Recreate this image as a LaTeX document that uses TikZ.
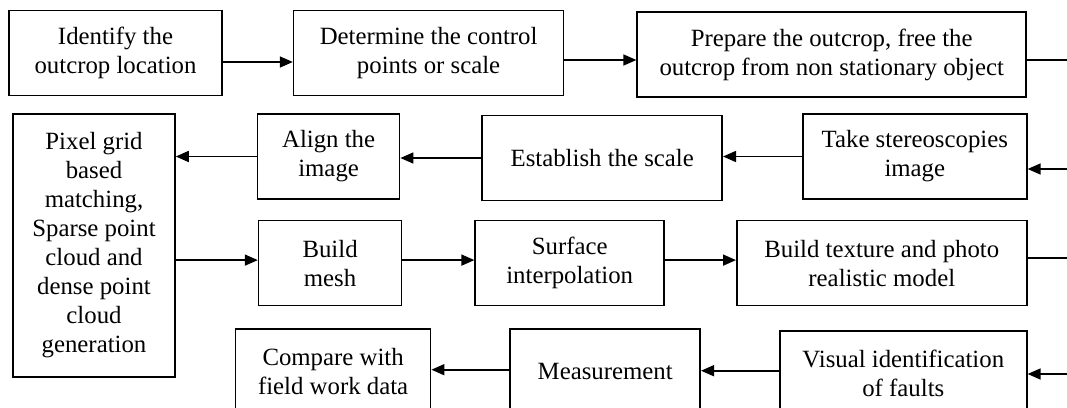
\documentclass[tikz,border=0pt]{standalone}
\usepackage{fontspec}
\setmainfont{Liberation Serif}
\usepackage{tikz}
\usetikzlibrary{positioning,arrows.meta}

\begin{document}
\begin{tikzpicture}[x=1pt, y=1pt,
    ->,
    >={Triangle[length=13pt,width=11pt]},
    line width=1.6pt,
    bb/.style={%
      rectangle, draw=black, line width=1.6pt, fill=white,
      minimum height=85pt, inner sep=4pt, align=center,
      font=\fontsize{24.8}{29}\selectfont
    }
]
    \clip (0,0) rectangle (1067,-407);

    % first row
    \node[bb, minimum width=213pt] (1) at (115.5,-53)  {Identify the\\outcrop location};
    \node[bb, minimum width=270pt] (2)  [right = 70pt of 1]  {Determine the control\\points or scale};
    \node[bb, minimum width=389pt] (3)  [right = 72pt of 2, yshift=-1.5pt]  {Prepare the outcrop, free the\\outcrop from non stationary object};
    % second row
    \node[bb, minimum width=162pt, minimum height=263pt] (7) at (94,-245.5)  {Pixel grid\\based\\matching,\\Sparse point\\cloud and\\dense point\\cloud\\generation};
    \node[bb, minimum width=142pt] (6)  [below right = 0pt and 81pt of 7.north east]  {Align the\\image};
    \node[bb, minimum width=240pt] (5)  [right = 81pt of 6, yshift=-1.5pt]  {Establish the scale};
    \node[bb, minimum width=224pt] (4)  [right = 79pt of 5, yshift=1.5pt]  {Take stereoscopies\\image};
    % third row
    \node[bb, minimum width=143pt] (8)  [below = 20pt of 6, xshift=1.5pt]  {Build\\mesh};
    \node[bb, minimum width=189pt] (9)  [right = 72pt of 8]  {Surface\\interpolation};
    \node[bb, minimum width=290pt] (10) [right = 71pt of 9]  {Build texture and photo\\realistic model};
    % fourth row
    \node[bb, minimum width=195pt] (13) [below = 22pt of 8, xshift=3pt]  {Compare with\\field work data};
    \node[bb, minimum width=190pt] (12) [right = 78pt of 13]  {Measurement};
    \node[bb, minimum width=247pt] (11) [right = 78pt of 12, yshift=-2pt]  {Visual identification\\of faults};

    % loose ends at the right border
    \coordinate (e1) at (1067,-60);
    \coordinate (e2) at (1067,-169);
    \coordinate (e3) at (1067,-258);
    \coordinate (e4) at (1067,-374);

    \draw ([yshift=-9pt]1.east) -- ([yshift=-9pt]1.east -| 2.west);
    \draw ([yshift=-7pt]2.east) -- ([yshift=-7pt]2.east -| 3.west);
    \draw[-] (e1 -| 3.east) -- (e1);
    \draw (e2) -- (e2 -| 4.east);
    \draw (4.west) -- (4.west -| 5.east);
    \draw (5.west) -- (5.west -| 6.east);
    \draw (6.west) -- (6.west -| 7.east);
    \draw ([yshift=3pt]8.west -| 7.east) -- ([yshift=3pt]8.west);
    \draw ([yshift=3pt]8.east) -- ([yshift=3pt]9.west);
    \draw ([yshift=3pt]9.east) -- ([yshift=3pt]10.west);
    \draw[-] (e3 -| 10.east) -- (e3);
    \draw (e4) -- (e4 -| 11.east);
    \draw ([yshift=3pt]11.west) -- ([yshift=3pt]11.west -| 12.east);
    \draw ([yshift=2pt]12.west) -- ([yshift=2pt]12.west -| 13.east);

\end{tikzpicture}
\end{document}
